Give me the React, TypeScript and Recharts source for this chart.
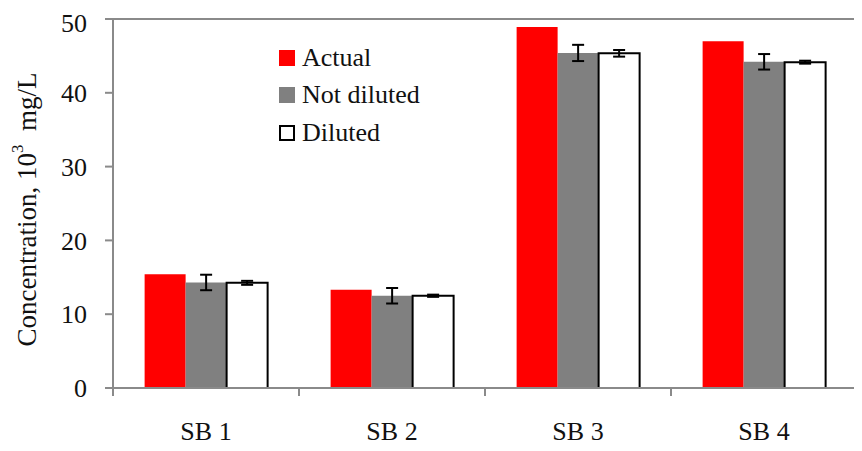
import React from 'react';
import { BarChart, Bar, XAxis, YAxis, ErrorBar, ReferenceLine } from 'recharts';

const categories = ['SB 1', 'SB 2', 'SB 3', 'SB 4'];
const actual = [15.4, 13.3, 48.9, 47.0];
const notDiluted = [14.3, 12.5, 45.4, 44.2];
const notDilutedErr = [1.05, 1.05, 1.1, 1.05];
const diluted = [14.25, 12.5, 45.35, 44.15];
const dilutedErr = [0.27, 0.15, 0.45, 0.2];
const yTicks = [0, 10, 20, 30, 40, 50];

const data = categories.map((name, i) => ({
  name,
  actual: actual[i],
  notDiluted: notDiluted[i],
  notDilutedErr: notDilutedErr[i],
  diluted: diluted[i],
  dilutedErr: dilutedErr[i],
}));

const FONT = '"Liberation Serif", "Times New Roman", serif';
const AXIS = '#8a8a8a';

const legendItems = [
  { label: 'Actual', fill: '#ff0000', border: 'none' },
  { label: 'Not diluted', fill: '#808080', border: 'none' },
  { label: 'Diluted', fill: '#ffffff', border: '2px solid #000' },
];

// category labels plus tick marks on the band edges
const CategoryTick = (props: any) => {
  const { x, y, payload, index, visibleTicksCount, width } = props;
  const half = payload.offset || width / visibleTicksCount / 2;
  return (
    <g>
      <line x1={x - half} y1={y} x2={x - half} y2={y + 8} stroke={AXIS} strokeWidth={2} />
      {index === visibleTicksCount - 1 && (
        <line x1={x + half} y1={y} x2={x + half} y2={y + 8} stroke={AXIS} strokeWidth={2} />
      )}
      <text x={x} y={y + 52} textAnchor="middle" fontSize={26} fontFamily={FONT} fill="#111">
        {payload.value}
      </text>
    </g>
  );
};

const YLabel = ({ viewBox }: any) => {
  const cx = viewBox.x + 19;
  const cy = viewBox.y + viewBox.height / 2 + 6;
  return (
    <text
      x={cx}
      y={cy}
      transform={`rotate(-90, ${cx}, ${cy})`}
      textAnchor="middle"
      dominantBaseline="central"
      fontSize={27}
      fontFamily={FONT}
      fill="#111"
    >
      Concentration, 10
      <tspan dy={-10} fontSize={17}>3</tspan>
      <tspan dy={10}>{'\u00a0 mg/L'}</tspan>
    </text>
  );
};

const App: React.FC = () => {
  return (
    <div style={{ position: 'relative', width: 854, height: 443 }}>
      <BarChart
        width={854}
        height={443}
        data={data}
        margin={{ top: 11, right: 5, bottom: 0, left: 0 }}
        barCategoryGap="17%"
        barGap={0}
      >
        <ReferenceLine y={50} stroke={AXIS} strokeWidth={2} />
        <Bar dataKey="actual" fill="#ff0000" isAnimationActive={false} />
        <Bar dataKey="notDiluted" fill="#808080" isAnimationActive={false}>
          <ErrorBar dataKey="notDilutedErr" width={6} strokeWidth={2} stroke="#000" />
        </Bar>
        <Bar dataKey="diluted" fill="#ffffff" stroke="#000" strokeWidth={2} isAnimationActive={false}>
          <ErrorBar dataKey="dilutedErr" width={6} strokeWidth={2} stroke="#000" />
        </Bar>
        <XAxis
          dataKey="name"
          height={63}
          tickSize={0}
          tickMargin={0}
          tickLine={false}
          axisLine={{ stroke: AXIS, strokeWidth: 2 }}
          tick={<CategoryTick />}
        />
        <YAxis
          width={105}
          domain={[0, 50]}
          ticks={yTicks}
          tickSize={8}
          tickMargin={18}
          tickLine={{ stroke: AXIS, strokeWidth: 2 }}
          axisLine={{ stroke: AXIS, strokeWidth: 2 }}
          tick={{ fontSize: 26, fontFamily: FONT, fill: '#111' }}
          label={<YLabel />}
        />
        <YAxis
          yAxisId="right"
          orientation="right"
          width={0}
          domain={[0, 50]}
          tick={false}
          tickLine={false}
          axisLine={{ stroke: AXIS, strokeWidth: 2 }}
        />
      </BarChart>
      <div style={{ position: 'absolute', left: 271, top: 31, fontFamily: FONT, fontSize: 26, color: '#111' }}>
        {legendItems.map((item) => (
          <div key={item.label} style={{ display: 'flex', alignItems: 'center', height: 37.5, whiteSpace: 'nowrap' }}>
            <span
              style={{
                display: 'inline-block',
                width: 16,
                height: 16,
                boxSizing: 'border-box',
                background: item.fill,
                border: item.border,
                marginRight: 7,
              }}
            />
            {item.label}
          </div>
        ))}
      </div>
    </div>
  );
};

export default App;
